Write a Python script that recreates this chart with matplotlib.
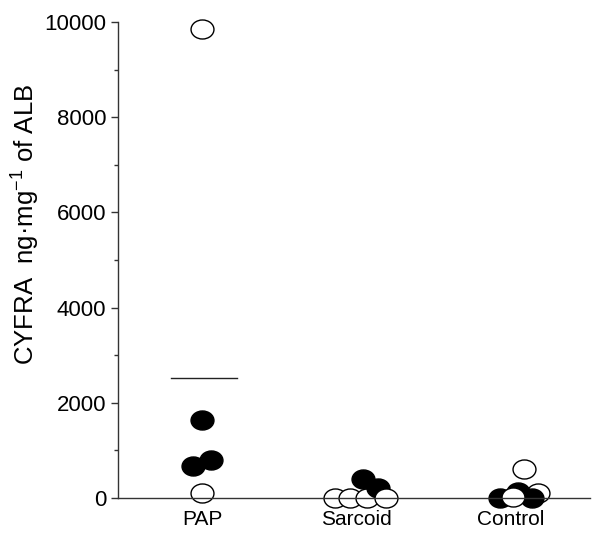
import numpy as np
import matplotlib
matplotlib.use('Agg')
import matplotlib.pyplot as plt
from matplotlib.path import Path

plt.rcParams['font.family'] = ['Liberation Sans', 'DejaVu Sans']
plt.rcParams['mathtext.default'] = 'regular'

# groups and points (x offset from group centre, value, filled?)
groups = ['PAP', 'Sarcoid', 'Control']

pap_off = [0.0, 0.0, -0.061, 0.060, 0.0]
pap_val = [9850, 1640, 672, 798, 99]
pap_fill = [False, True, True, True, False]

sar_off = [-0.142, -0.045, 0.065, 0.039, 0.136, 0.188]
sar_val = [0, 0, 0, 400, 216, 0]
sar_fill = [False, False, False, True, True, False]

con_off = [0.175, 0.136, 0.045, -0.071, 0.013, 0.084]
con_val = [100, 0, 130, 0, 20, 603]
con_fill = [False, True, True, True, False, False]

pap_median = 2527

# ellipse marker
circ = Path.unit_circle()
ellipse = Path(circ.vertices * np.array([1.0, 0.83]), circ.codes)

fig = plt.figure(figsize=(5.96, 5.39), dpi=100)
ax = fig.add_axes([0.198, 0.0761, 0.792, 0.883])

data = [(pap_off, pap_val, pap_fill), (sar_off, sar_val, sar_fill), (con_off, con_val, con_fill)]
for i, (offs, vals, fills) in enumerate(data):
    for o, v, f in zip(offs, vals, fills):
        ax.plot(i + 1 + o, v, marker=ellipse, markersize=16.5, linestyle='none',
                markerfacecolor='black' if f else 'white',
                markeredgecolor='black', markeredgewidth=1.0, clip_on=False)

ax.plot([1 - 0.2, 1 + 0.225], [pap_median, pap_median], color='#222222', lw=1.0)

ax.set_xlim(0.456, 3.511)
ax.set_ylim(0, 10000)
ax.set_xticks([1, 2, 3])
ax.set_xticklabels(groups)
ax.set_yticks(np.arange(0, 10001, 2000))
ax.set_yticks(np.arange(1000, 10000, 2000), minor=True)
ax.tick_params(axis='x', length=0, labelsize=15, pad=9)
ax.tick_params(axis='y', which='major', length=5, width=1, labelsize=16, color='#333333')
ax.tick_params(axis='y', which='minor', length=3, width=1, color='#333333')

for s in ['top', 'right']:
    ax.spines[s].set_visible(False)
for s in ['left', 'bottom']:
    ax.spines[s].set_color('#333333')
    ax.spines[s].set_linewidth(1.0)

ax.set_ylabel('CYFRA  ng·mg$^{-1}$ of ALB', fontsize=18.5)
ax.yaxis.set_label_coords(-0.16, 0.575)

fig.savefig('out.png', dpi=100)
